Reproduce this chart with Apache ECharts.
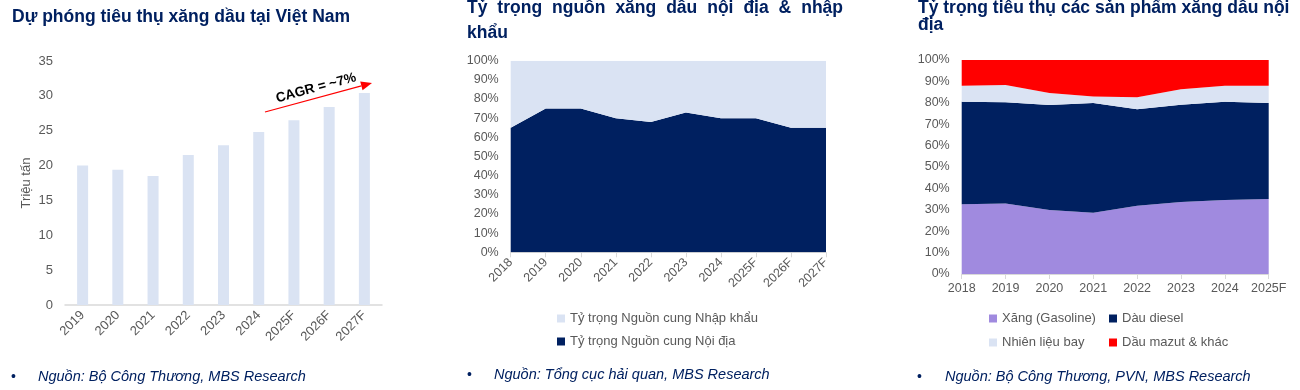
<!DOCTYPE html>
<html>
<head>
<meta charset="utf-8">
<script src="https://cdn.jsdelivr.net/npm/echarts@6/dist/echarts.min.js"></script>
<style>
html,body{margin:0;padding:0;background:#fff;}
#c{width:1300px;height:390px;}
</style>
</head>
<body>
<div id="c"></div>
<script>
// ---- Data ----
var years1 = ['2019','2020','2021','2022','2023','2024','2025F','2026F','2027F'];
var consumption = [20.0, 19.4, 18.5, 21.5, 22.9, 24.8, 26.5, 28.4, 30.4];

var years2 = ['2018','2019','2020','2021','2022','2023','2024','2025F','2026F','2027F'];
var domesticShare = [65, 75, 75, 70, 68, 73, 70, 70, 65, 65];
var importShare = [35, 25, 25, 30, 32, 27, 30, 30, 35, 35];

var years3 = ['2018','2019','2020','2021','2022','2023','2024','2025F'];
var gasoline = [32.6, 32.9, 29.9, 28.6, 31.9, 33.6, 34.6, 35.0];
var diesel = [47.9, 47.3, 49.1, 51.3, 45.1, 45.5, 45.9, 44.9];
var jetFuel = [7.5, 8.1, 5.6, 3.1, 5.6, 7.2, 7.5, 8.1];
var mazut = [12.0, 11.7, 15.4, 17.0, 17.4, 13.7, 12.0, 12.0];

var yTicks1 = {min: 0, max: 35, interval: 5};
var yTicksPct = {min: 0, max: 100, interval: 10};

// ---- Styles ----
var FONT = "'Liberation Sans', Arial, sans-serif";
var NAVY = '#002060';
var LIGHT = '#DAE3F3';
var PURPLE = '#A08ADF';
var RED = '#FF0000';
var GRAY = '#595959';
var AXIS = '#D9D9D9';

var chart = echarts.init(document.getElementById('c'), null, {renderer: 'canvas'});

// justified title words for chart 2
var ctx = document.createElement('canvas').getContext('2d');
var titleFont = 'bold 17.5px ' + FONT;
ctx.font = titleFont;
var t2words = ['Tỷ','trọng','nguồn','xăng','dầu','nội','địa','&','nhập'];
var t2left = 467, t2right = 843;
var widths = t2words.map(function(w){return ctx.measureText(w).width;});
var totalW = widths.reduce(function(a,b){return a+b;},0);
var gap = (t2right - t2left - totalW) / (t2words.length - 1);
var graphics = [];
var xx = t2left;
t2words.forEach(function(w,i){
  graphics.push({type:'text', style:{text:w, x:xx, y:8, font:titleFont, fill:NAVY, verticalAlign:'middle', textVerticalAlign:'middle'}});
  xx += widths[i] + gap;
});
graphics.push({type:'text', style:{text:'khẩu', x:467, y:33, font:titleFont, fill:NAVY, verticalAlign:'middle', textVerticalAlign:'middle'}});

function txt(s, x, y, font, fill, extra){
  var o = {type:'text', style:{text:s, x:x, y:y, font:font, fill:fill, verticalAlign:'middle', textVerticalAlign:'middle'}};
  if (extra) { for (var k in extra) o[k] = extra[k]; }
  return o;
}
// titles
graphics.push(txt('Dự phóng tiêu thụ xăng dầu tại Việt Nam', 12, 17, titleFont, NAVY));
graphics.push(txt('Tỷ trọng tiêu thụ các sản phẩm xăng dầu nội', 918, 8, titleFont, NAVY));
graphics.push(txt('địa', 918, 25, titleFont, NAVY));
// footnotes
var footFont = 'italic 14.5px ' + FONT;
graphics.push(txt('•', 11, 377, '14px ' + FONT, NAVY));
graphics.push(txt('Nguồn: Bộ Công Thương, MBS Research', 38, 377, footFont, NAVY));
graphics.push(txt('•', 467, 375, '14px ' + FONT, NAVY));
graphics.push(txt('Nguồn: Tổng cục hải quan, MBS Research', 494, 375, footFont, NAVY));
graphics.push(txt('•', 917, 377, '14px ' + FONT, NAVY));
graphics.push(txt('Nguồn: Bộ Công Thương, PVN, MBS Research', 945, 377, footFont, NAVY));

// CAGR arrow annotation
var ax1 = 265, ay1 = 112, ax2 = 372, ay2 = 83;
var ang = Math.atan2(ay2 - ay1, ax2 - ax1);
var hl = 11, hw = 4.5;
var bx = ax2 - hl * Math.cos(ang), by = ay2 - hl * Math.sin(ang);
graphics.push({type:'line', shape:{x1:ax1, y1:ay1, x2:bx, y2:by}, style:{stroke:RED, lineWidth:1.2}});
graphics.push({type:'polygon', shape:{points:[[ax2,ay2],[bx - hw*Math.sin(ang), by + hw*Math.cos(ang)],[bx + hw*Math.sin(ang), by - hw*Math.cos(ang)]]}, style:{fill:RED}});
graphics.push({type:'text', x:316, y:88, rotation:-ang, style:{text:'CAGR = ~7%', x:0, y:0, font:'bold 13.5px ' + FONT, fill:'#000', align:'center', textAlign:'center', verticalAlign:'middle', textVerticalAlign:'middle'}});

var axisLbl = {color: GRAY, fontFamily: FONT, fontSize: 12.5};

function pctY(idx){
  return {type:'value', gridIndex: idx, min: yTicksPct.min, max: yTicksPct.max, interval: yTicksPct.interval,
    axisLabel: Object.assign({formatter:'{value}%', margin: 12}, axisLbl),
    axisLine:{show:false}, axisTick:{show:false}, splitLine:{show:false}};
}

function legendItem(name, left, top){
  return {data:[{name:name}], left:left, top:top, orient:'horizontal', itemWidth:8, itemHeight:8, itemGap:4,
    icon:'rect', padding:0, textStyle:{color:GRAY, fontFamily:FONT, fontSize:13}, selectedMode:false};
}

var option = {
  animation: false,
  backgroundColor: '#fff',
  grid: [
    {left: 65, right: 918, top: 61, bottom: 85},
    {left: 510.7, right: 474, top: 60.7, bottom: 137.7},
    {left: 961.7, right: 31.3, top: 60, bottom: 116}
  ],
  xAxis: [
    {type:'category', gridIndex:0, data: years1,
      axisLine:{lineStyle:{color:AXIS, width:1.5}}, axisTick:{show:false},
      axisLabel: Object.assign({rotate:45, margin:8, interval:0}, axisLbl, {fontSize:13})},
    {type:'category', gridIndex:1, data: years2, boundaryGap:false,
      axisLine:{lineStyle:{color:AXIS}}, axisTick:{show:true, alignWithLabel:true, length:5, lineStyle:{color:AXIS}},
      axisLabel: Object.assign({rotate:45, margin:8, interval:0}, axisLbl)},
    {type:'category', gridIndex:2, data: years3, boundaryGap:false,
      axisLine:{lineStyle:{color:AXIS}}, axisTick:{show:true, length:5, lineStyle:{color:AXIS}},
      axisLabel: Object.assign({margin:8, interval:0}, axisLbl)}
  ],
  yAxis: [
    {type:'value', gridIndex:0, min:yTicks1.min, max:yTicks1.max, interval:yTicks1.interval,
      name:'Triệu tấn', nameLocation:'middle', nameGap:32, nameRotate:90,
      nameTextStyle:{color:GRAY, fontFamily:FONT, fontSize:13},
      axisLabel: Object.assign({margin:12}, axisLbl, {fontSize:13}),
      axisLine:{show:false}, axisTick:{show:false}, splitLine:{show:false}},
    pctY(1),
    pctY(2)
  ],
  legend: [
    {data:['Tỷ trọng Nguồn cung Nhập khẩu','Tỷ trọng Nguồn cung Nội địa'], left:557, top:312, orient:'vertical',
      itemWidth:8, itemHeight:8, itemGap:10, icon:'rect', padding:0,
      textStyle:{color:GRAY, fontFamily:FONT, fontSize:13}, selectedMode:false},
    legendItem('Xăng (Gasoline)', 989, 312),
    legendItem('Dàu diesel', 1109, 312),
    legendItem('Nhiên liệu bay', 989, 336),
    legendItem('Dầu mazut & khác', 1109, 336)
  ],
  series: [
    {name:'Tiêu thụ', type:'bar', xAxisIndex:0, yAxisIndex:0, data: consumption,
      barWidth: 11, itemStyle:{color: LIGHT}},
    {name:'Tỷ trọng Nguồn cung Nội địa', type:'line', xAxisIndex:1, yAxisIndex:1, stack:'s2', data: domesticShare,
      symbol:'none', lineStyle:{width:0}, areaStyle:{color:NAVY, opacity:1}, itemStyle:{color:NAVY}},
    {name:'Tỷ trọng Nguồn cung Nhập khẩu', type:'line', xAxisIndex:1, yAxisIndex:1, stack:'s2', data: importShare,
      symbol:'none', lineStyle:{width:0}, areaStyle:{color:LIGHT, opacity:1}, itemStyle:{color:LIGHT}},
    {name:'Xăng (Gasoline)', type:'line', xAxisIndex:2, yAxisIndex:2, stack:'s3', data: gasoline,
      symbol:'none', lineStyle:{width:0}, areaStyle:{color:PURPLE, opacity:1}, itemStyle:{color:PURPLE}},
    {name:'Dàu diesel', type:'line', xAxisIndex:2, yAxisIndex:2, stack:'s3', data: diesel,
      symbol:'none', lineStyle:{width:0}, areaStyle:{color:NAVY, opacity:1}, itemStyle:{color:NAVY}},
    {name:'Nhiên liệu bay', type:'line', xAxisIndex:2, yAxisIndex:2, stack:'s3', data: jetFuel,
      symbol:'none', lineStyle:{width:0}, areaStyle:{color:LIGHT, opacity:1}, itemStyle:{color:LIGHT}},
    {name:'Dầu mazut & khác', type:'line', xAxisIndex:2, yAxisIndex:2, stack:'s3', data: mazut,
      symbol:'none', lineStyle:{width:0}, areaStyle:{color:RED, opacity:1}, itemStyle:{color:RED}}
  ],
  graphic: graphics
};
chart.setOption(option);
</script>
</body>
</html>
